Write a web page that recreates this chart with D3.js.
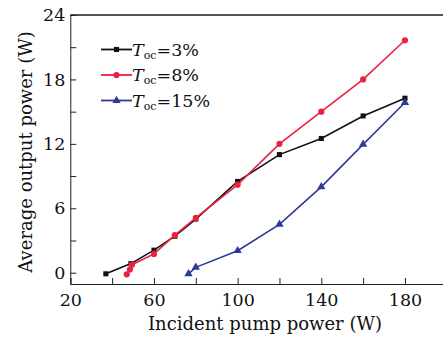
<!DOCTYPE html>
<html>
<head>
<meta charset="utf-8">
<script src="https://cdn.jsdelivr.net/npm/d3@7"></script>
<style>
  body { margin: 0; background: #fff; }
  svg { display: block; font-family: "DejaVu Serif", serif; }
</style>
</head>
<body>
<svg id="chart" width="443" height="339"></svg>
<script>
// Données
const pumpTicks = [20, 60, 100, 140, 180];
const powerTicks = [0, 6, 12, 18, 24];

const toc3 = [
    [37, -0.1], [49, 0.85], [60, 2.1], [70, 3.4], [80, 5.0],
    [100, 8.5], [120, 11.0], [140, 12.5], [160, 14.6], [180, 16.25]
];
const toc8 = [
    [47, -0.15], [48.5, 0.3], [49.5, 0.75], [60, 1.75], [70, 3.5], [80, 5.1],
    [100, 8.2], [120, 12.0], [140, 15.0], [160, 18.0], [180, 21.65]
];
const toc15 = [
    [76.5, -0.1], [80, 0.5], [100, 2.05], [120, 4.5],
    [140, 8.0], [160, 11.95], [180, 15.85]
];

const seriesNames = ["3%", "8%", "15%"];

const config = {
    colors: ["#111111", "#e8223f", "#2e3a99"],
    symbols: [d3.symbolSquare, d3.symbolCircle, d3.symbolTriangle],
    symbolSizes: [26, 30, 30]
};

const series = [toc3, toc8, toc15];

const svg = d3.select("#chart");
const margin = { left: 70.3, right: 446.8, top: 15, bottom: 284 };

const x = d3.scaleLinear().domain([20, 200]).range([margin.left, margin.right]);
const y = d3.scaleLinear().domain([-1.05, 24]).range([margin.bottom, margin.top]);

// cadre haut
svg.append("line")
    .attr("x1", margin.left).attr("x2", margin.right)
    .attr("y1", margin.top).attr("y2", margin.top)
    .attr("stroke", "#555").attr("stroke-width", 2);

// axe x
const xAxis = svg.append("g")
    .attr("transform", `translate(0,${margin.bottom})`)
    .call(d3.axisBottom(x).tickValues(d3.range(20, 201, 20)).tickSize(-6).tickPadding(10)
        .tickFormat(d => pumpTicks.includes(d) ? d : ""));
xAxis.select(".domain").attr("stroke", "#222");
xAxis.selectAll(".tick line").attr("stroke", "#222");
xAxis.selectAll("text").attr("font-size", 17.5).attr("fill", "#111")
    .attr("font-family", "DejaVu Serif");

// axe y
const yAxis = svg.append("g")
    .attr("transform", `translate(${margin.left},0)`)
    .call(d3.axisLeft(y).tickValues(d3.range(0, 25, 3)).tickSize(-6).tickPadding(5)
        .tickFormat(d => powerTicks.includes(d) ? d : ""));
yAxis.select(".domain").attr("stroke", "#222");
yAxis.selectAll(".tick line").attr("stroke", "#222");
yAxis.selectAll("text").attr("font-size", 17.5).attr("fill", "#111")
    .attr("font-family", "DejaVu Serif");

// titres
svg.append("text")
    .attr("x", 265).attr("y", 330)
    .attr("text-anchor", "middle")
    .attr("font-size", 18).attr("fill", "#111")
    .text("Incident pump power (W)");

svg.append("text")
    .attr("transform", "translate(32,152) rotate(-90)")
    .attr("text-anchor", "middle")
    .attr("font-size", 18).attr("fill", "#111")
    .text("Average output power (W)");

// courbes
const line = d3.line().x(d => x(d[0])).y(d => y(d[1]));

series.forEach((data, i) => {
    svg.append("path")
        .datum(data)
        .attr("d", line)
        .attr("fill", "none")
        .attr("stroke", config.colors[i])
        .attr("stroke-width", 1.6);

    svg.append("g").selectAll("path")
        .data(data)
        .enter()
        .append("path")
        .attr("transform", d => `translate(${x(d[0])},${y(d[1])})`)
        .attr("d", d3.symbol().type(config.symbols[i]).size(config.symbolSizes[i]))
        .attr("fill", config.colors[i]);
});

// légende
const legend = svg.append("g");
seriesNames.forEach((name, i) => {
    const ly = 49.5 + i * 25.5;
    legend.append("line")
        .attr("x1", 101).attr("x2", 132)
        .attr("y1", ly).attr("y2", ly)
        .attr("stroke", config.colors[i]).attr("stroke-width", 1.8);
    legend.append("path")
        .attr("transform", `translate(116.5,${ly})`)
        .attr("d", d3.symbol().type(config.symbols[i]).size(config.symbolSizes[i]))
        .attr("fill", config.colors[i]);
    const t = legend.append("text")
        .attr("x", 132).attr("y", ly + 6)
        .attr("font-size", 17.5).attr("fill", "#111");
    t.append("tspan").attr("font-style", "italic").text("T");
    t.append("tspan").attr("font-size", 11).attr("dy", 3).text("oc");
    t.append("tspan").attr("dy", -3).text("=" + name);
});
</script>
</body>
</html>
